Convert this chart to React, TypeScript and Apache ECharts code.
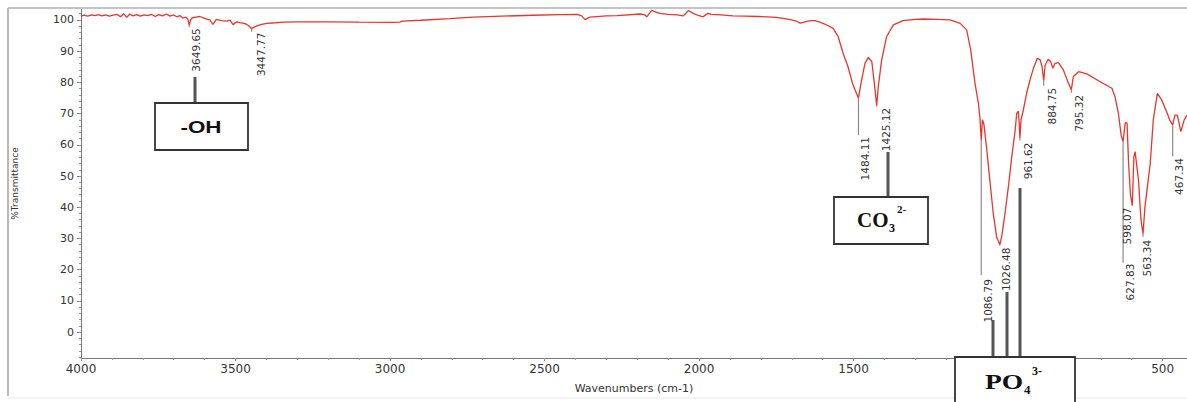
import React, { useEffect, useRef } from "react";
import * as echarts from "echarts";

// ---- data ----
const wavenumbers: number[] = [
  4000, 3990, 3978, 3966, 3955, 3944, 3932, 3920, 3908, 3896, 3884, 3872, 3862, 3852, 3842, 3832,
  3820, 3808, 3796, 3784, 3772, 3760, 3748, 3736, 3724, 3712, 3700, 3690, 3680, 3670, 3660, 3654,
  3649.65, 3645, 3640, 3628, 3615, 3600, 3590, 3583, 3573, 3562, 3545, 3528, 3518, 3508, 3496, 3485,
  3469, 3458, 3447.77, 3440, 3431, 3415, 3399, 3370, 3345, 3291, 3200, 3100, 2990, 2968, 2960, 2900,
  2806, 2731, 2640, 2537, 2450, 2395, 2380, 2369, 2360, 2353, 2300, 2265, 2191, 2175, 2169, 2160,
  2153, 2140, 2126, 2100, 2070, 2051, 2040, 2035, 2027, 2019, 2005, 1987, 1978, 1971, 1960, 1930,
  1890, 1850, 1810, 1780, 1750, 1728, 1700, 1683, 1673, 1660, 1651, 1640, 1625, 1612, 1599, 1585,
  1566, 1550, 1534, 1518, 1502, 1484.11, 1474, 1463, 1452, 1441, 1434, 1425.12, 1420, 1409, 1393, 1371,
  1340, 1300, 1275, 1230, 1188, 1155, 1134, 1121, 1107, 1096, 1091, 1086.79, 1083, 1078, 1070, 1059,
  1048, 1037, 1026.48, 1020, 1010, 999, 988, 977, 972, 967, 964, 961.62, 958, 952, 940, 929,
  918, 905, 896, 890, 884.75, 880, 870, 862, 855, 848, 837, 821, 808, 795.32, 789, 772,
  745, 702, 664, 654, 643, 634, 627.83, 621, 615, 610, 604, 598.07, 593, 589, 578, 570,
  563.34, 557, 540, 530, 517, 503, 487, 477, 467.34, 460, 452, 441, 430, 421,
];
const transmittance: number[] = [
  101.3, 101.5, 101.2, 101.6, 101.4, 101.7, 101.3, 101.6, 101.2, 101.5, 101.8, 101.0, 102.0, 100.8, 101.9, 101.3,
  101.7, 101.2, 101.6, 101.4, 101.8, 101.1, 101.7, 101.3, 101.9, 101.2, 101.6, 101.0, 101.4, 100.6, 100.9, 100.2,
  98.3, 100.1, 100.7, 100.9, 101.1, 100.5, 100.2, 100.0, 98.6, 100.2, 99.8, 99.6, 99.9, 98.5, 99.4, 99.1,
  98.8, 98.2, 97.2, 97.7, 98.1, 98.6, 98.9, 99.1, 99.3, 99.4, 99.4, 99.3, 99.2, 99.3, 99.6, 99.9,
  100.4, 100.9, 101.2, 101.5, 101.7, 101.8, 101.3, 100.1, 100.6, 100.9, 101.3, 101.4, 101.9, 101.6, 101.0, 102.2,
  103.1, 102.5, 102.1, 101.8, 101.6, 101.3, 102.4, 103.0, 102.6, 102.1, 101.5, 101.0, 101.7, 102.1, 101.8, 101.6,
  101.3, 101.2, 101.1, 101.0, 100.8, 100.5, 100.0, 99.5, 99.0, 99.3, 99.5, 99.8, 99.8, 99.4, 98.9, 98.3,
  97.3, 94.7, 89.4, 85.0, 79.2, 75.0, 80.8, 86.1, 88.0, 86.6, 80.8, 72.5, 78.6, 87.2, 94.7, 98.4,
  99.8, 100.2, 100.3, 100.2, 100.0, 98.9, 96.8, 90.4, 79.7, 73.3, 68.5, 61.5, 68.0, 66.5, 59.4, 48.7,
  38.0, 30.5, 28.0, 31.0, 38.0, 46.6, 56.2, 64.7, 70.1, 70.8, 67.0, 62.0, 68.0, 70.5, 76.5, 80.8,
  84.5, 87.7, 87.2, 85.0, 80.5, 85.5, 87.4, 86.6, 84.5, 86.1, 86.3, 84.0, 80.5, 77.6, 81.8, 83.4,
  82.7, 80.2, 78.1, 75.4, 70.1, 63.0, 61.0, 67.0, 67.0, 54.0, 44.0, 40.5, 56.2, 57.8, 48.7, 36.0,
  31.5, 40.2, 54.0, 68.0, 76.5, 74.4, 70.6, 68.0, 66.3, 69.5, 69.5, 64.2, 68.0, 69.5,
];

const peakPositions: number[] = [
  3649.65, 3447.77, 1484.11, 1425.12, 1086.79, 1026.48, 961.62, 884.75, 795.32, 627.83, 598.07, 563.34, 467.34,
];
const peakDepths: number[] = [98.3, 97.2, 75.0, 72.5, 61.5, 28.0, 62.0, 80.5, 77.6, 61.0, 40.5, 31.5, 66.3];

const xTicks: number[] = [500, 1000, 1500, 2000, 2500, 3000, 3500, 4000];
const xMinorTicks: number[] = [
  500, 600, 700, 800, 900, 1000, 1100, 1200, 1300, 1400, 1500, 1600, 1700, 1800, 1900, 2000, 2100, 2200,
  2300, 2400, 2500, 2600, 2700, 2800, 2900, 3000, 3100, 3200, 3300, 3400, 3500, 3600, 3700, 3800, 3900, 4000,
];
const yTicks: number[] = [0, 10, 20, 30, 40, 50, 60, 70, 80, 90, 100];
const yMinorTicks: number[] = [
  -8, -6, -4, -2, 0, 2, 4, 6, 8, 10, 12, 14, 16, 18, 20, 22, 24, 26, 28, 30, 32, 34, 36, 38, 40, 42, 44, 46,
  48, 50, 52, 54, 56, 58, 60, 62, 64, 66, 68, 70, 72, 74, 76, 78, 80, 82, 84, 86, 88, 90, 92, 94, 96, 98, 100, 102,
];

// ---- label layout (pixels) ----
const peakLeaderLen: number[] = [2, 3, 37, 1, 135, 1, 2, 5, 3, 121, 0, 3, 31];
const peakLabelGap: number[] = [1, 1, 2, 1, 4, 2, 2, 2, 2, 1, 2, 3, 2];
const peakLabelDx: number[] = [7, 9, 7, 9, 7, 6, 8, 8, 8, 7, -5, 4, 6];

const X_MIN = 421;
const X_MAX = 4000;
const Y_MIN = -8.3;
const Y_MAX = 103.5;

export default function App() {
  const ref = useRef<HTMLDivElement>(null);

  useEffect(() => {
    document.body.style.margin = "0";
    if (!ref.current) return;
    const chart = echarts.init(ref.current, undefined, { renderer: "svg" });

    const spectrum = wavenumbers.map((w, i) => [w, transmittance[i]]);
    const peaks = peakPositions.map((w, i) => [w, peakDepths[i], i]);

    const axisFont = "DejaVu Sans";
    const boxLine = "#555";
    const boxStroke = "#333";

    const graphics: any[] = [
      // outer frame
      { type: "line", z: 100, shape: { x1: 8, y1: 8, x2: 1187, y2: 8 }, style: { stroke: "#c4c4c4", lineWidth: 2 } },
      { type: "line", z: 100, shape: { x1: 8, y1: 8, x2: 8, y2: 396 }, style: { stroke: "#b8b8b8", lineWidth: 2 } },
      { type: "line", z: 100, shape: { x1: 8, y1: 398, x2: 1187, y2: 398 }, style: { stroke: "#e6e6e6", lineWidth: 1 } },
      // -OH
      { type: "line", z: 100, shape: { x1: 195, y1: 77, x2: 195, y2: 103 }, style: { stroke: boxLine, lineWidth: 3 } },
      { type: "rect", z: 100, shape: { x: 155, y: 103, width: 93, height: 47 }, style: { fill: "#fff", stroke: boxStroke, lineWidth: 1.8 } },
      {
        type: "text", z: 101, x: 201, y: 127, scaleX: 1.4,
        style: { text: "-OH", x: 0, y: 0, fill: "#111", font: 'bold 16px "Liberation Sans"', textAlign: "center", textVerticalAlign: "middle" },
      },
      // CO3 2-
      { type: "line", z: 100, shape: { x1: 888, y1: 152, x2: 888, y2: 197 }, style: { stroke: boxLine, lineWidth: 3 } },
      { type: "rect", z: 100, shape: { x: 834, y: 197, width: 94, height: 47 }, style: { fill: "#fff", stroke: boxStroke, lineWidth: 1.8 } },
      {
        type: "text", z: 101, x: 857, y: 220,
        style: { text: "CO", x: 0, y: 0, fill: "#111", font: 'bold 21px "Liberation Serif"', textAlign: "left", textVerticalAlign: "middle" },
      },
      {
        type: "text", z: 101, x: 889, y: 228,
        style: { text: "3", x: 0, y: 0, fill: "#111", font: 'bold 12px "Liberation Serif"', textAlign: "left", textVerticalAlign: "middle" },
      },
      {
        type: "text", z: 101, x: 897, y: 209,
        style: { text: "2-", x: 0, y: 0, fill: "#111", font: 'bold 11px "Liberation Serif"', textAlign: "left", textVerticalAlign: "middle" },
      },
      // PO4 3-
      { type: "line", z: 100, shape: { x1: 993, y1: 320, x2: 993, y2: 357 }, style: { stroke: boxLine, lineWidth: 3 } },
      { type: "line", z: 100, shape: { x1: 1007, y1: 292, x2: 1007, y2: 357 }, style: { stroke: boxLine, lineWidth: 3 } },
      { type: "line", z: 100, shape: { x1: 1020, y1: 188, x2: 1020, y2: 357 }, style: { stroke: boxLine, lineWidth: 3 } },
      { type: "rect", z: 100, shape: { x: 955, y: 357, width: 120, height: 60 }, style: { fill: "#fff", stroke: boxStroke, lineWidth: 1.8 } },
      {
        type: "text", z: 101, x: 985, y: 381, scaleX: 1.25,
        style: { text: "PO", x: 0, y: 0, fill: "#111", font: 'bold 22px "Liberation Serif"', textAlign: "left", textVerticalAlign: "middle" },
      },
      {
        type: "text", z: 101, x: 1024, y: 389,
        style: { text: "4", x: 0, y: 0, fill: "#111", font: 'bold 13px "Liberation Serif"', textAlign: "left", textVerticalAlign: "middle" },
      },
      {
        type: "text", z: 101, x: 1032, y: 371,
        style: { text: "3-", x: 0, y: 0, fill: "#111", font: 'bold 12px "Liberation Serif"', textAlign: "left", textVerticalAlign: "middle" },
      },
    ];

    const plain = (v: number) => String(v);

    chart.setOption({
      animation: false,
      backgroundColor: "#fff",
      grid: { left: 81, right: 0, top: 9, bottom: 44, containLabel: false },
      xAxis: [
        {
          type: "value",
          min: X_MIN,
          max: X_MAX,
          inverse: true,
          position: "bottom",
          splitLine: { show: false },
          name: "Wavenumbers (cm-1)",
          nameLocation: "middle",
          nameGap: 25,
          nameTextStyle: { fontFamily: axisFont, fontSize: 11, color: "#333" },
          axisLine: { show: true, onZero: false, lineStyle: { color: "#777", width: 1 } },
          axisTick: { show: true, customValues: xTicks, length: 3, lineStyle: { color: "#777" } },
          axisLabel: { customValues: xTicks, formatter: plain, color: "#333", fontFamily: axisFont, fontSize: 12, margin: 5 },
        },
        {
          type: "value",
          min: X_MIN,
          max: X_MAX,
          inverse: true,
          position: "bottom",
          splitLine: { show: false },
          axisLine: { show: false, onZero: false },
          axisTick: { show: true, customValues: xMinorTicks, length: 2, lineStyle: { color: "#999" } },
          axisLabel: { show: false },
        },
      ],
      yAxis: [
        {
          type: "value",
          min: Y_MIN,
          max: Y_MAX,
          position: "left",
          splitLine: { show: false },
          name: "%Transmittance",
          nameLocation: "middle",
          nameGap: 62,
          nameTextStyle: { fontFamily: axisFont, fontSize: 9, color: "#333" },
          axisLine: { show: true, onZero: false, lineStyle: { color: "#777", width: 1 } },
          axisTick: { show: true, customValues: yTicks, length: 4, lineStyle: { color: "#777" } },
          axisLabel: { customValues: yTicks, formatter: plain, color: "#333", fontFamily: axisFont, fontSize: 11, margin: 7 },
        },
        {
          type: "value",
          min: Y_MIN,
          max: Y_MAX,
          position: "left",
          splitLine: { show: false },
          axisLine: { show: false, onZero: false },
          axisTick: { show: true, customValues: yMinorTicks, length: 2, lineStyle: { color: "#999" } },
          axisLabel: { show: false },
        },
      ],
      series: [
        {
          type: "line",
          xAxisIndex: 0,
          yAxisIndex: 0,
          data: spectrum,
          showSymbol: false,
          symbol: "none",
          lineStyle: { color: "#e8352d", width: 1.3 },
          silent: true,
          z: 3,
        },
        {
          type: "custom",
          xAxisIndex: 0,
          yAxisIndex: 0,
          data: peaks,
          encode: { x: 0, y: 1 },
          silent: true,
          clip: false,
          z: 4,
          renderItem: (params: any, api: any) => {
            const i = api.value(2);
            const w = api.value(0);
            const p = api.coord([w, api.value(1)]);
            const len = peakLeaderLen[i];
            const gap = peakLabelGap[i];
            const dx = peakLabelDx[i];
            const children: any[] = [];
            if (len > 0) {
              children.push({
                type: "line",
                shape: { x1: p[0], y1: p[1], x2: p[0], y2: p[1] + len },
                style: { stroke: "#8a8a8a", lineWidth: 1.2 },
              });
            }
            children.push({
              type: "text",
              x: p[0] + dx,
              y: p[1] + len + gap,
              rotation: Math.PI / 2,
              style: {
                text: peakPositions[i].toFixed(2),
                x: 0,
                y: 0,
                fill: "#333",
                font: '10.5px "DejaVu Sans"',
                textAlign: "right",
                textVerticalAlign: "middle",
                align: "right",
                verticalAlign: "middle",
              },
            });
            return { type: "group", children };
          },
        },
      ],
      graphic: graphics,
    });

    return () => chart.dispose();
  }, []);

  return <div ref={ref} style={{ width: 1187, height: 402 }} />;
}
